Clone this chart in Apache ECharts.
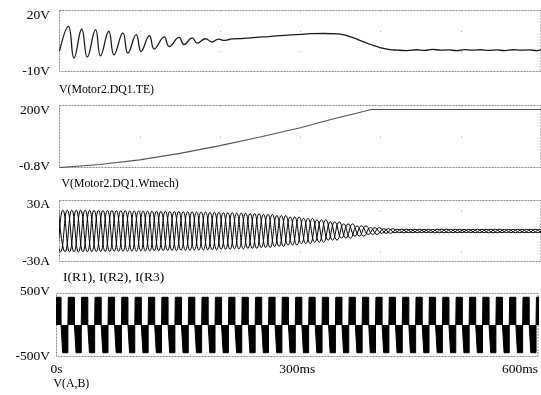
<!DOCTYPE html>
<html><head><meta charset="utf-8">
<script src="https://cdn.jsdelivr.net/npm/echarts@6/dist/echarts.min.js"></script>
<style>html,body{margin:0;padding:0;background:#fff}#c{width:541px;height:395px}</style>
</head><body><div id="c"></div>
<script>
// ---- time axis ----
const timeTickValues = [0, 300, 600];
const timeTickLabels = ['0s', '300ms', '600ms'];

// ---- panel labels and y ranges ----
const panelNames = ['V(Motor2.DQ1.TE)', 'V(Motor2.DQ1.Wmech)', 'I(R1), I(R2), I(R3)', 'V(A,B)'];
const yMins = [-10, -0.8, -30, -500];
const yMaxs = [20, 200, 30, 500];
const yMinLabels = ['-10V', '-0.8V', '-30A', '-500V'];
const yMaxLabels = ['20V', '200V', '30A', '500V'];

// ---- panel 1: electromagnetic torque (ms, V) ----
const teTimes = [0, 11.1, 18.1, 27.7, 34.6, 44.9, 51.1, 61.4, 67.9, 79.0, 85.2, 95.6, 101.7, 112, 118.1, 130.5, 136.7, 149, 155.2, 165.4, 171.6, 182, 190.1, 198, 206, 215, 230, 245, 260, 280, 300, 313, 330, 347, 360, 367, 375, 383, 391, 399, 410, 421, 433, 445, 455, 465, 475, 485, 495, 505, 515, 525, 535, 545, 555, 565, 575, 585, 595, 600];
const teValues = [0, 12.2, -3.4, 10.9, -2.9, 10.6, -2.3, 9.8, -1.8, 9.0, -1.0, 8.1, -0.1, 7.6, 1.0, 7.0, 2.3, 6.8, 3.2, 6.5, 4.0, 6.1, 4.5, 5.9, 5.3, 6.0, 6.3, 6.8, 7.2, 7.8, 8.3, 8.6, 8.7, 8.5, 7.4, 6.5, 5.2, 4.0, 2.8, 1.8, 0.9, 0.5, 0.3, 0.7, 0.4, 0.9, 0.5, 0.6, 0.3, 0.8, 0.5, 0.7, 0.4, 0.6, 0.3, 0.7, 0.5, 0.6, 0.3, 0.8];

// ---- panel 2: mechanical speed (ms, V) ----
const wmechTimes = [0, 50, 100, 150, 200, 250, 300, 343, 370, 388, 600];
const wmechValues = [-0.8, 9, 24, 45, 70, 98, 128, 158, 175, 187, 187];

// ---- panel 3: phase currents, peak value (A) of each 60 Hz cycle ----
const currentPeakPerCycle = [20.5, 20.5, 20.3, 20.2, 20.0, 19.8, 19.6, 19.4, 19.2, 19.0, 18.7, 18.4, 18.0, 17.6, 17.1, 16.3, 15.2, 13.8, 12.4, 11.1, 9.0, 7.0, 5.0, 3.3, 2.3, 1.8, 1.7, 1.6, 1.8, 1.7, 1.6, 1.7, 1.8, 1.6, 1.7, 1.7];
const phaseOffsetsMs = [0, 5.56, 11.11];
const linePeriodMs = 16.667;

// ---- panel 4: line-to-line voltage, one period pattern ----
const vabLevels = [440, 0, -440, 0];
const vabSegmentMs = [7.7, 2.0, 6.5, 0.467];
const vabPhaseMs = -2.0;

// ---- build series data ----
const teData = teTimes.map((t, i) => [t, teValues[i]]);
const wmechData = wmechTimes.map((t, i) => [t, wmechValues[i]]);

const currentData = phaseOffsetsMs.map(off => {
  const pts = [];
  for (let j = -2; j < 76; j++) {
    const t = off + linePeriodMs / 4 + j * linePeriodMs / 2;
    let k = Math.floor(t / linePeriodMs);
    k = Math.max(0, Math.min(currentPeakPerCycle.length - 1, k));
    const amp = currentPeakPerCycle[k];
    pts.push([t, (j % 2 === 0 ? 1 : -1) * amp]);
  }
  return pts;
});

const vabData = [];
for (let k = -1; k < 38; k++) {
  let t = vabPhaseMs + k * linePeriodMs;
  for (let s = 0; s < vabLevels.length; s++) {
    vabData.push([t, vabLevels[s]]);
    t += vabSegmentMs[s];
    vabData.push([t, vabLevels[s]]);
  }
}

// ---- layout ----
const FONT = 'Liberation Serif';
const gridTops = [10.5, 105.5, 200.5, 293.5];
const gridHeights = [61, 62, 61, 63];
const gridLefts = [59.5, 59.5, 59.5, 56.5];
const dotDash = [[1, 19.33], [1, 30], [1, 19.33], [1, 30]];
const dotOffset = [0, 0, 10.2, 0];
const topLabelPad = [[9, 0, 0, 0], [9, 0, 0, 0], [8, 0, 0, 0], [0, 0, 4, 0]];
const botLabelPad = [[0, 0, 0, 0], [0, 0, 2, 0], [0, 0, 1, 0], [0, 0, 0, 0]];
const titleTops = [83, 177, 270.5, 376.5];
const titleLefts = [59, 61.5, 63, 53.5];
const titleSizes = [11.8, 11.8, 13.5, 11.8];

const grids = [], xAxes = [], yAxes = [], titles = [];
for (let i = 0; i < 4; i++) {
  grids.push({
    show: true, left: gridLefts[i], right: -4, top: gridTops[i], height: gridHeights[i],
    borderColor: '#8a8a8a', borderWidth: 1, borderType: [2, 1], backgroundColor: 'transparent'
  });
  xAxes.push({
    type: 'value', gridIndex: i, min: 0, max: 600, interval: 100,
    axisLine: { show: false }, axisTick: { show: false },
    splitLine: { show: i < 3, lineStyle: { color: '#999', width: 1, type: dotDash[i], dashOffset: dotOffset[i] } },
    axisLabel: i === 3 ? {
      show: true, margin: 6, fontFamily: FONT, fontSize: 13.5, color: '#000',
      showMinLabel: true, showMaxLabel: true, alignMaxLabel: 'right',
      formatter: v => { const idx = timeTickValues.indexOf(v); return idx >= 0 ? timeTickLabels[idx] : ''; }
    } : { show: false }
  });
  const mx = yMaxs[i], mn = yMins[i];
  yAxes.push({
    type: 'value', gridIndex: i, min: mn, max: mx,
    axisLine: { show: false }, axisTick: { show: false }, splitLine: { show: false },
    axisLabel: {
      show: true, margin: gridLefts[i] - 50, showMinLabel: true, showMaxLabel: true,
      fontFamily: FONT, fontSize: 13.5, color: '#000',
      formatter: v => Math.abs(v - mx) < 1e-6 ? '{t|' + yMaxLabels[i] + '}' : (Math.abs(v - mn) < 1e-6 ? '{b|' + yMinLabels[i] + '}' : ''),
      rich: {
        t: { fontFamily: FONT, fontSize: 13.5, color: '#000', padding: topLabelPad[i] },
        b: { fontFamily: FONT, fontSize: 13.5, color: '#000', padding: botLabelPad[i] }
      }
    }
  });
  titles.push({
    text: panelNames[i], left: titleLefts[i], top: titleTops[i], padding: 0,
    textStyle: { fontFamily: FONT, fontSize: titleSizes[i], fontWeight: 'normal', color: '#000', lineHeight: 14 }
  });
}

const series = [
  { type: 'line', xAxisIndex: 0, yAxisIndex: 0, data: teData, smooth: 0.45, showSymbol: false,
    lineStyle: { color: '#1a1a1a', width: 1.3 }, animation: false },
  { type: 'line', xAxisIndex: 1, yAxisIndex: 1, data: wmechData, smooth: false, showSymbol: false,
    lineStyle: { color: '#555', width: 1.2 }, animation: false },
  ...currentData.map(d => ({ type: 'line', xAxisIndex: 2, yAxisIndex: 2, data: d, smooth: 0.5, showSymbol: false,
    lineStyle: { color: '#000', width: 1 }, animation: false })),
  { type: 'line', xAxisIndex: 3, yAxisIndex: 3, data: vabData, showSymbol: false,
    lineStyle: { color: '#000', width: 1 }, areaStyle: { color: '#000', opacity: 1, origin: 0 }, animation: false }
];

const chart = echarts.init(document.getElementById('c'), null, { renderer: 'canvas' });
chart.setOption({
  animation: false, backgroundColor: '#fff',
  title: titles, grid: grids, xAxis: xAxes, yAxis: yAxes, series: series
});
</script></body></html>
